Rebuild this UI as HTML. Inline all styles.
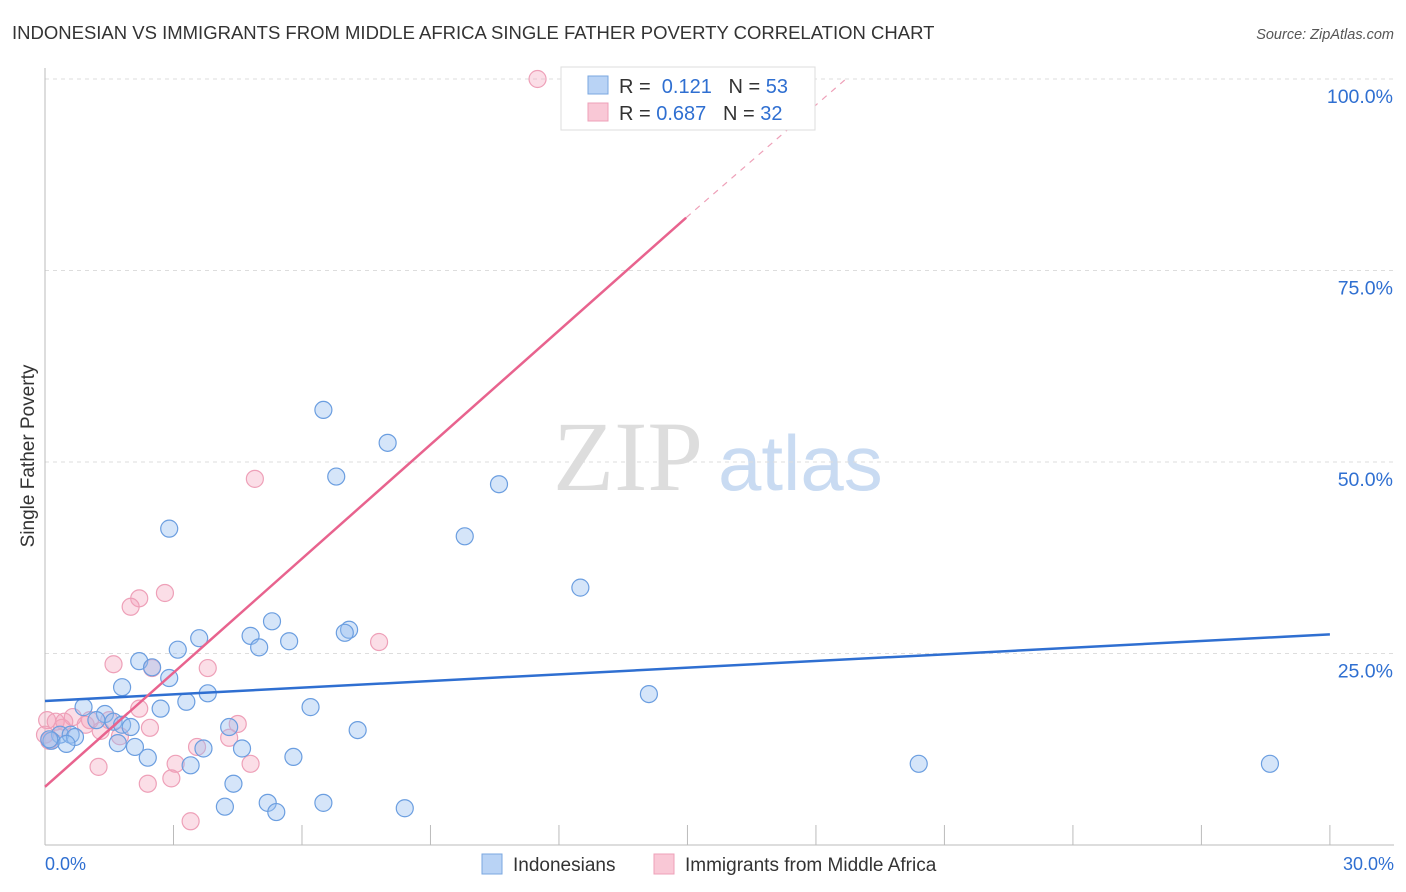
<!DOCTYPE html>
<html><head><meta charset="utf-8"><style>
body{margin:0;background:#fff;font-family:"Liberation Sans",sans-serif;}
svg{display:block}
</style></head><body>
<svg width="1406" height="892" id="c">
<text x="12" y="39" font-size="18.5" fill="#333">INDONESIAN VS IMMIGRANTS FROM MIDDLE AFRICA SINGLE FATHER POVERTY CORRELATION CHART</text>
<text x="1394" y="39" font-size="14.5" fill="#555" font-style="italic" text-anchor="end">Source: ZipAtlas.com</text>
<text x="34" y="456" font-size="19" fill="#333" transform="rotate(-90 34 456)" text-anchor="middle">Single Father Poverty</text>
<text x="553" y="490" font-size="100" fill="#ddd" font-family="Liberation Serif,serif">ZIP</text>
<text x="718" y="490" font-size="78" fill="#c9dbf2">atlas</text>
<g id="grid"></g><g id="pts"></g><g id="lines"></g>
<g>
<rect x="561" y="67" width="254" height="63" fill="#fff" stroke="#ddd"/>
<rect x="588" y="76" width="20" height="18" fill="#b9d3f5" stroke="#7aa7e0"/>
<rect x="588" y="103" width="20" height="18" fill="#f9c8d6" stroke="#eea0b8"/>
<text x="619" y="93" font-size="20" fill="#333">R = <tspan fill="#2f6fd1">&#160;0.121</tspan>&#160;&#160;&#160;N = <tspan fill="#2f6fd1">53</tspan></text>
<text x="619" y="120" font-size="20" fill="#333">R = <tspan fill="#2f6fd1">0.687</tspan>&#160;&#160;&#160;N = <tspan fill="#2f6fd1">32</tspan></text>
</g>
<g>
<rect x="482" y="854" width="20" height="20" fill="#b9d3f5" stroke="#7aa7e0"/>
<text x="513" y="871" font-size="19" fill="#333">Indonesians</text>
<rect x="654" y="854" width="20" height="20" fill="#f9c8d6" stroke="#eea0b8"/>
<text x="685" y="871" font-size="19" fill="#333">Immigrants from Middle Africa</text>
</g>
<text x="45" y="870" font-size="18" fill="#2f6fd1">0.0%</text>
<text x="1394" y="870" font-size="18" fill="#2f6fd1" text-anchor="end">30.0%</text>
</svg>
<script>
const yTicks=[100,75,50,25];
const yTickLabels=["100.0%","75.0%","50.0%","25.0%"];
const xTicks=[3,6,9,12,15,18,21,24,27,30];
const blueX=[6.5,8.0,6.8,10.6,2.9,9.8,12.5,5.3,7.1,7.0,4.8,3.6,5.7,5.0,3.1,2.2,2.5,2.9,1.8,3.8,3.3,2.7,6.2,14.1,0.9,1.4,1.2,1.6,1.8,2.0,4.3,7.3,0.35,0.6,0.7,0.15,0.5,1.7,2.1,4.6,3.7,2.4,5.8,3.4,4.4,4.2,5.2,6.5,5.4,8.4,20.4,28.6,0.1];
const blueY=[56.8,52.5,48.1,47.1,41.3,40.3,33.6,29.2,28.1,27.7,27.3,27.0,26.6,25.8,25.5,24.0,23.2,21.8,20.6,19.8,18.7,17.8,18.0,19.7,18.0,17.1,16.3,16.1,15.7,15.4,15.4,15.0,14.4,14.4,14.1,13.6,13.2,13.3,12.8,12.6,12.6,11.4,11.5,10.4,8.0,5.0,5.5,5.5,4.3,4.8,10.6,10.6,13.8];
const pinkX=[11.5,4.9,2.8,2.2,2.0,7.8,1.6,2.5,3.8,2.2,4.5,0.05,0.25,0.65,1.05,0.4,1.3,1.75,0.95,4.3,3.55,3.05,4.8,1.25,2.95,2.4,3.4,0.1,0,0.45,1.5,2.45];
const pinkY=[100,47.8,32.9,32.2,31.1,26.5,23.6,23.1,23.1,17.8,15.8,16.3,16.1,16.7,16.3,15.3,14.9,14.2,15.7,14.0,12.8,10.6,10.6,10.2,8.7,8.0,3.1,13.6,14.4,16.1,16.3,15.3];
const blueTrend=[18.8,27.5];
const pinkTrend=[7.6,81.9,100];
const pinkTrendX=[0,14.97,18.7];
const NS="http://www.w3.org/2000/svg";
const X=v=>45+v*42.83, Y=v=>845-v*7.66;
function mk(t,a,p){const e=document.createElementNS(NS,t);for(const k in a)e.setAttribute(k,a[k]);p.appendChild(e);return e;}
const grid=document.getElementById('grid');
yTicks.forEach((t,i)=>{
 const l=mk('line',{x1:45,x2:1394,y1:Y(t),y2:Y(t),stroke:'#ddd','stroke-dasharray':'4,4'},grid);
 
 
 const tx=mk('text',{x:1393,y:Y(t)+24,'font-size':19.5,fill:'#2f6fd1','text-anchor':'end'},grid);
 tx.textContent=yTickLabels[i];
 
 
});
const ax=mk('line',{x1:45,x2:45,y1:68,y2:845,stroke:'#bbb'},grid);


const bx=mk('line',{x1:45,x2:1394,y1:845,y2:845,stroke:'#bbb'},grid);


xTicks.forEach(t=>{
 const l=mk('line',{x1:X(t),x2:X(t),y1:825,y2:845,stroke:'#bbb'},grid);
 
 
});
const pts=document.getElementById('pts');
pinkX.forEach((x,i)=>{
 const c=mk('circle',{cx:X(x),cy:Y(pinkY[i]),r:8.5,fill:'rgba(244,160,185,0.35)',stroke:'#eea0b8','stroke-width':1.2},pts);
 
 
});
blueX.forEach((x,i)=>{
 const c=mk('circle',{cx:X(x),cy:Y(blueY[i]),r:8.5,fill:'rgba(150,190,240,0.4)',stroke:'#6b9ee0','stroke-width':1.2},pts);
 
 
});
const lines=document.getElementById('lines');
const b=mk('line',{x1:X(0),y1:Y(blueTrend[0]),x2:X(30),y2:Y(blueTrend[1]),stroke:'#2f6fd1','stroke-width':2.5},lines);


const p=mk('line',{x1:X(pinkTrendX[0]),y1:Y(pinkTrend[0]),x2:X(pinkTrendX[1]),y2:Y(pinkTrend[1]),stroke:'#e8638e','stroke-width':2.5},lines);


const pd=mk('line',{x1:X(pinkTrendX[1]),y1:Y(pinkTrend[1]),x2:X(pinkTrendX[2]),y2:Y(pinkTrend[2]),stroke:'#eea0b8','stroke-width':1.2,'stroke-dasharray':'6,6'},lines);


</script>
</body></html>
